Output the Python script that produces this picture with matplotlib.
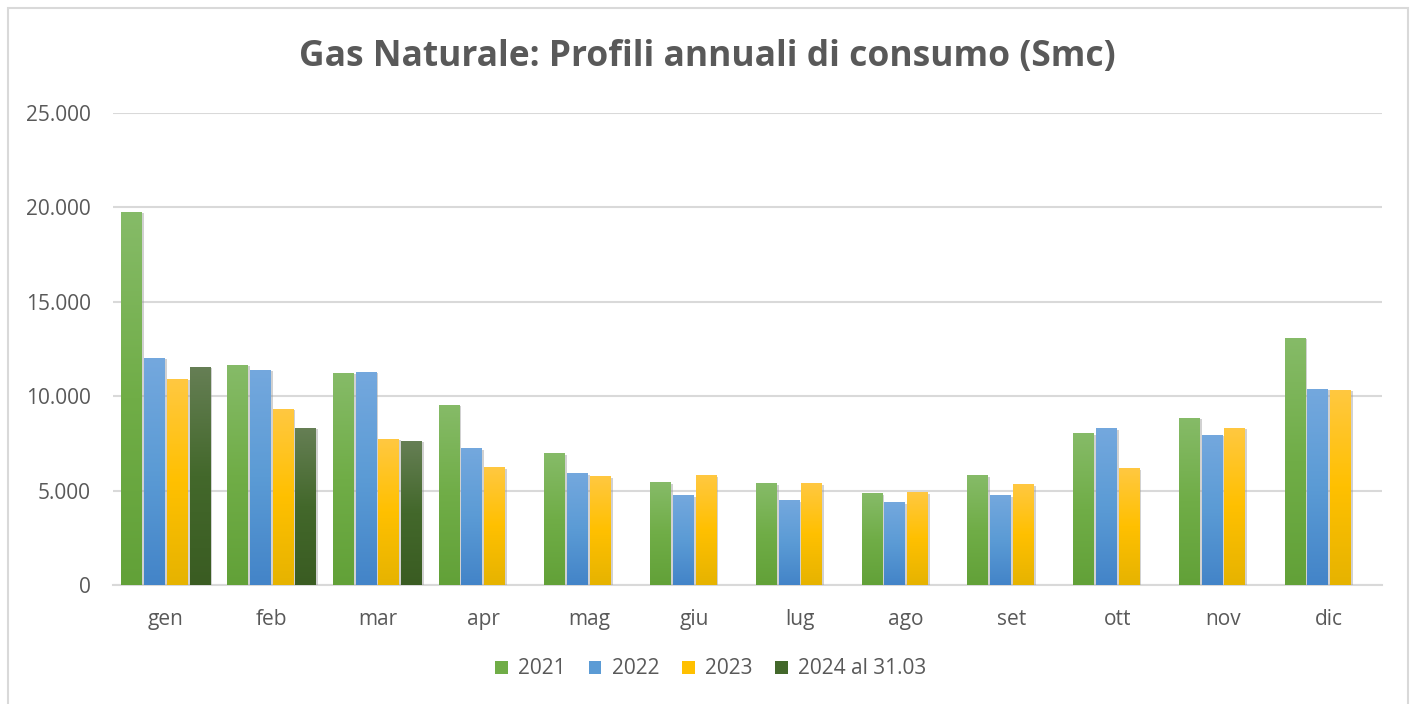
import numpy as np
import matplotlib
matplotlib.use("Agg")
import matplotlib.pyplot as plt
from matplotlib.colors import LinearSegmentedColormap
from matplotlib.patches import Patch, Rectangle
from matplotlib.ticker import FuncFormatter
import matplotlib.patheffects as pe

plt.rcParams['font.family'] = ['Open Sans', 'DejaVu Sans']

# data (Smc)
mesi = ['gen', 'feb', 'mar', 'apr', 'mag', 'giu', 'lug', 'ago', 'set', 'ott', 'nov', 'dic']
y2021 = [19760, 11650, 11230, 9560, 6970, 5440, 5390, 4860, 5810, 8030, 8870, 13090]
y2022 = [12020, 11390, 11280, 7230, 5910, 4750, 4490, 4380, 4750, 8290, 7970, 10400]
y2023 = [10910, 9320, 7730, 6230, 5750, 5810, 5390, 4910, 5330, 6180, 8340, 10350]
y2024 = [11550, 8320, 7630, 0, 0, 0, 0, 0, 0, 0, 0, 0]
serie = ['2021', '2022', '2023', '2024 al 31.03']

# gradient colours per series: top, middle, bottom
colori = [
    ('#86BB68', '#70AD47', '#62A138'),
    ('#74A8DE', '#5B9BD5', '#4384C8'),
    ('#FFC841', '#FFC000', '#E6B300'),
    ('#667F55', '#43682B', '#3A5C22'),
]

grey = '#595959'

fig = plt.figure(figsize=(14.16, 7.04), dpi=100)
ax = fig.add_axes([113 / 1416, 1 - 585 / 704, 1269 / 1416, 472 / 704])

# outer chart border
fig.patches.append(Rectangle((8 / 1416, -0.02), 1400 / 1416, 1 - 8 / 704 + 0.02,
                             transform=fig.transFigure, fill=False,
                             edgecolor='#D9D9D9', linewidth=1.5))

x = np.arange(len(mesi))
w = 0.195
step = 0.215
grad = np.linspace(0, 1, 256).reshape(-1, 1)

for i, (vals, nome) in enumerate(zip([y2021, y2022, y2023, y2024], serie)):
    cmap = LinearSegmentedColormap.from_list('g%d' % i, [colori[i][2], colori[i][1], colori[i][0]])
    pos = x + (i - 1.5) * step
    bars = ax.bar(pos, vals, width=w, color=colori[i][1], zorder=3,
                  path_effects=[pe.SimplePatchShadow(offset=(1.5, -1), shadow_rgbFace='#9a9a9a', alpha=0.45),
                                pe.Normal()])
    for b in bars:
        h = b.get_height()
        if h <= 0:
            continue
        x0 = b.get_x()
        im = ax.imshow(grad, extent=(x0, x0 + b.get_width(), 0, h), origin='lower',
                       aspect='auto', cmap=cmap, zorder=4)
        im.set_clip_path(b)

ax.set_xlim(-0.5, len(mesi) - 0.5)
ax.set_ylim(0, 25000)
ax.set_yticks(np.arange(0, 25001, 5000))
ax.yaxis.set_major_formatter(FuncFormatter(lambda v, p: '{:,.0f}'.format(v).replace(',', '.')))
ax.set_xticks(x)
ax.set_xticklabels(mesi)
ax.grid(axis='y', color='#D9D9D9', linewidth=1.5, zorder=0)
ax.set_axisbelow(True)
for s in ['top', 'right', 'left']:
    ax.spines[s].set_visible(False)
ax.spines['bottom'].set_color('#D9D9D9')
ax.spines['bottom'].set_linewidth(1.5)
ax.tick_params(axis='both', length=0, labelsize=15, colors=grey)
ax.tick_params(axis='y', pad=16)
ax.tick_params(axis='x', pad=17)

fig.text(707 / 1416, 1 - 57 / 704, 'Gas Naturale: Profili annuali di consumo (Smc)',
         ha='center', va='center', fontsize=25.5, fontweight='bold', color=grey)

handles = [Patch(facecolor=c[1], edgecolor='none') for c in colori]
fig.legend(handles, serie, loc='center', bbox_to_anchor=(711 / 1416, 1 - 669 / 704),
           ncol=4, frameon=False, fontsize=15, labelcolor=grey,
           handlelength=0.6, handleheight=0.6, handletextpad=0.5, columnspacing=1.1)

fig.savefig('out.png', dpi=100, facecolor='white')
